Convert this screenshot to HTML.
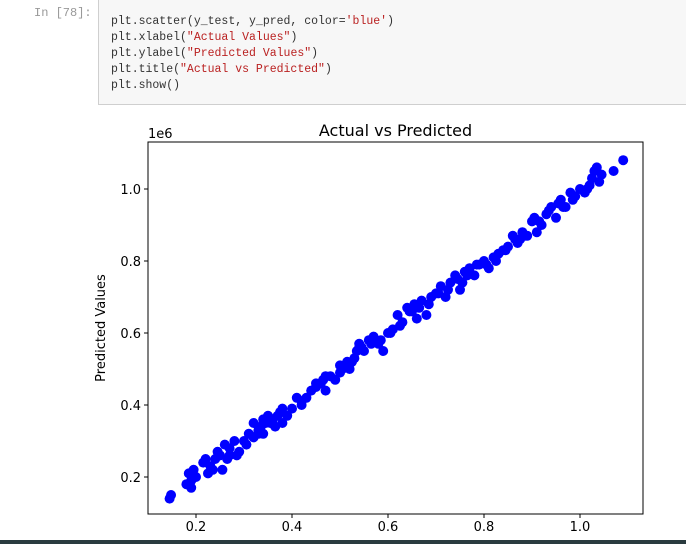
<!DOCTYPE html>
<html><head><meta charset="utf-8"><style>
body{margin:0;width:686px;height:544px;background:#fff;overflow:hidden;position:relative;font-family:"DejaVu Sans","Liberation Sans",sans-serif}
#cell{position:absolute;left:98px;top:-1px;width:600px;height:106px;background:#f7f7f7;border:1px solid #cfcfcf;box-sizing:border-box}
#prompt{position:absolute;left:34px;top:6px;font:12px "Liberation Mono",monospace;color:#999}
pre{margin:0;position:absolute;left:12px;top:14px;font:11.5px/16px "Liberation Mono",monospace;color:#333}
.s{color:#ba2121}.p{color:#333}
#bar{position:absolute;left:0;top:540px;width:686px;height:4px;background:#2a3b3f}
</style></head><body>
<div id="prompt">In [78]:</div>
<div id="cell"><pre>plt.scatter(y_test, y_pred, color=<span class="s">'blue'</span>)
plt.xlabel(<span class="s">"Actual Values"</span>)
plt.ylabel(<span class="s">"Predicted Values"</span>)
plt.title(<span class="s">"Actual vs Predicted"</span>)
plt.show()</pre></div>
<svg id="chart" width="686" height="544" style="position:absolute;left:0;top:0"></svg>
<div id="bar"></div>
<script>
const actual=[0.145,0.148,0.18,0.19,0.185,0.195,0.19,0.215,0.22,0.225,0.235,0.245,0.25,0.255,0.26,0.265,0.27,0.28,0.285,0.29,0.30,0.305,0.32,0.32,0.33,0.335,0.34,0.345,0.35,0.36,0.365,0.375,0.38,0.38,0.40,0.42,0.42,0.43,0.44,0.45,0.46,0.465,0.47,0.48,0.49,0.50,0.505,0.51,0.52,0.53,0.535,0.54,0.545,0.55,0.56,0.57,0.58,0.59,0.60,0.61,0.62,0.63,0.64,0.65,0.655,0.66,0.67,0.68,0.69,0.70,0.71,0.72,0.73,0.74,0.75,0.755,0.76,0.77,0.78,0.79,0.80,0.81,0.82,0.83,0.84,0.85,0.86,0.87,0.875,0.88,0.89,0.90,0.905,0.91,0.92,0.93,0.94,0.95,0.955,0.96,0.97,0.98,0.99,1.00,1.01,1.02,1.03,1.035,1.04,1.045,1.07,1.09,
0.20,0.23,0.24,0.27,0.31,0.33,0.34,0.355,0.37,0.39,0.41,0.45,0.47,0.50,0.515,0.525,0.54,0.565,0.585,0.605,0.625,0.645,0.665,0.685,0.705,0.725,0.745,0.765,0.785,0.805,0.825,0.845,0.865,0.885,0.915,0.935,0.965,0.985,1.015,1.025];
const predicted=[0.14,0.15,0.18,0.17,0.21,0.22,0.19,0.24,0.25,0.21,0.22,0.27,0.26,0.22,0.29,0.25,0.28,0.30,0.26,0.27,0.30,0.29,0.35,0.31,0.32,0.34,0.36,0.35,0.37,0.36,0.34,0.38,0.35,0.39,0.39,0.41,0.40,0.42,0.44,0.45,0.46,0.47,0.44,0.48,0.47,0.49,0.50,0.51,0.50,0.53,0.55,0.57,0.56,0.55,0.58,0.59,0.57,0.55,0.60,0.61,0.65,0.63,0.67,0.66,0.68,0.64,0.69,0.65,0.70,0.71,0.73,0.70,0.74,0.76,0.72,0.74,0.77,0.78,0.76,0.79,0.80,0.78,0.81,0.82,0.83,0.84,0.87,0.85,0.86,0.88,0.87,0.91,0.92,0.88,0.90,0.93,0.95,0.92,0.96,0.97,0.95,0.99,0.98,1.00,0.99,1.01,1.05,1.06,1.02,1.04,1.05,1.08,
0.20,0.23,0.25,0.26,0.32,0.33,0.32,0.35,0.37,0.37,0.42,0.46,0.48,0.51,0.52,0.52,0.56,0.57,0.58,0.60,0.62,0.66,0.67,0.68,0.71,0.72,0.75,0.76,0.79,0.79,0.80,0.83,0.86,0.87,0.91,0.94,0.95,0.97,1.00,1.03];
const xTicks=[0.2,0.4,0.6,0.8,1.0];
const yTicks=[0.2,0.4,0.6,0.8,1.0];
const xTickLabels=["0.2","0.4","0.6","0.8","1.0"];
const yTickLabels=["0.2","0.4","0.6","0.8","1.0"];
const L=148,R=643,T=142,B=514;
const sx=v=>100+480*v, sy=v=>549-360*v;
const svg=document.getElementById('chart');
const NS='http://www.w3.org/2000/svg';
function mk(t,a){const e=document.createElementNS(NS,t);for(const k in a)e.setAttribute(k,a[k]);svg.appendChild(e);return e;}
const g=mk('g',{});


actual.forEach((v,i)=>{const c=document.createElementNS(NS,'circle');c.setAttribute('cx',sx(v));c.setAttribute('cy',sy(predicted[i]));c.setAttribute('r',5);c.setAttribute('fill','#0000ff');


g.appendChild(c);});
const fr=mk('rect',{x:L,y:T,width:R-L,height:B-T,fill:'none',stroke:'#000','stroke-width':1});


xTicks.forEach((v,i)=>{mk('line',{x1:sx(v),x2:sx(v),y1:B,y2:B+4,stroke:'#000'});
const t=mk('text',{x:sx(v),y:B+17,'text-anchor':'middle','font-size':13,fill:'#000'});t.textContent=xTickLabels[i];

});
yTicks.forEach((v,i)=>{mk('line',{x1:L-4,x2:L,y1:sy(v),y2:sy(v),stroke:'#000'});
const t=mk('text',{x:L-7,y:sy(v)+5,'text-anchor':'end','font-size':13,fill:'#000'});t.textContent=yTickLabels[i];

});
const off=mk('text',{x:L,y:T-4,'font-size':13,fill:'#000'});off.textContent='1e6';


const ti=mk('text',{x:(L+R)/2,y:T-6,'text-anchor':'middle','font-size':16,fill:'#000'});ti.textContent='Actual vs Predicted';


const yl=mk('text',{x:0,y:0,'text-anchor':'middle','font-size':13,fill:'#000',transform:'translate(105,328) rotate(-90)'});yl.textContent='Predicted Values';


</script>
</body></html>
